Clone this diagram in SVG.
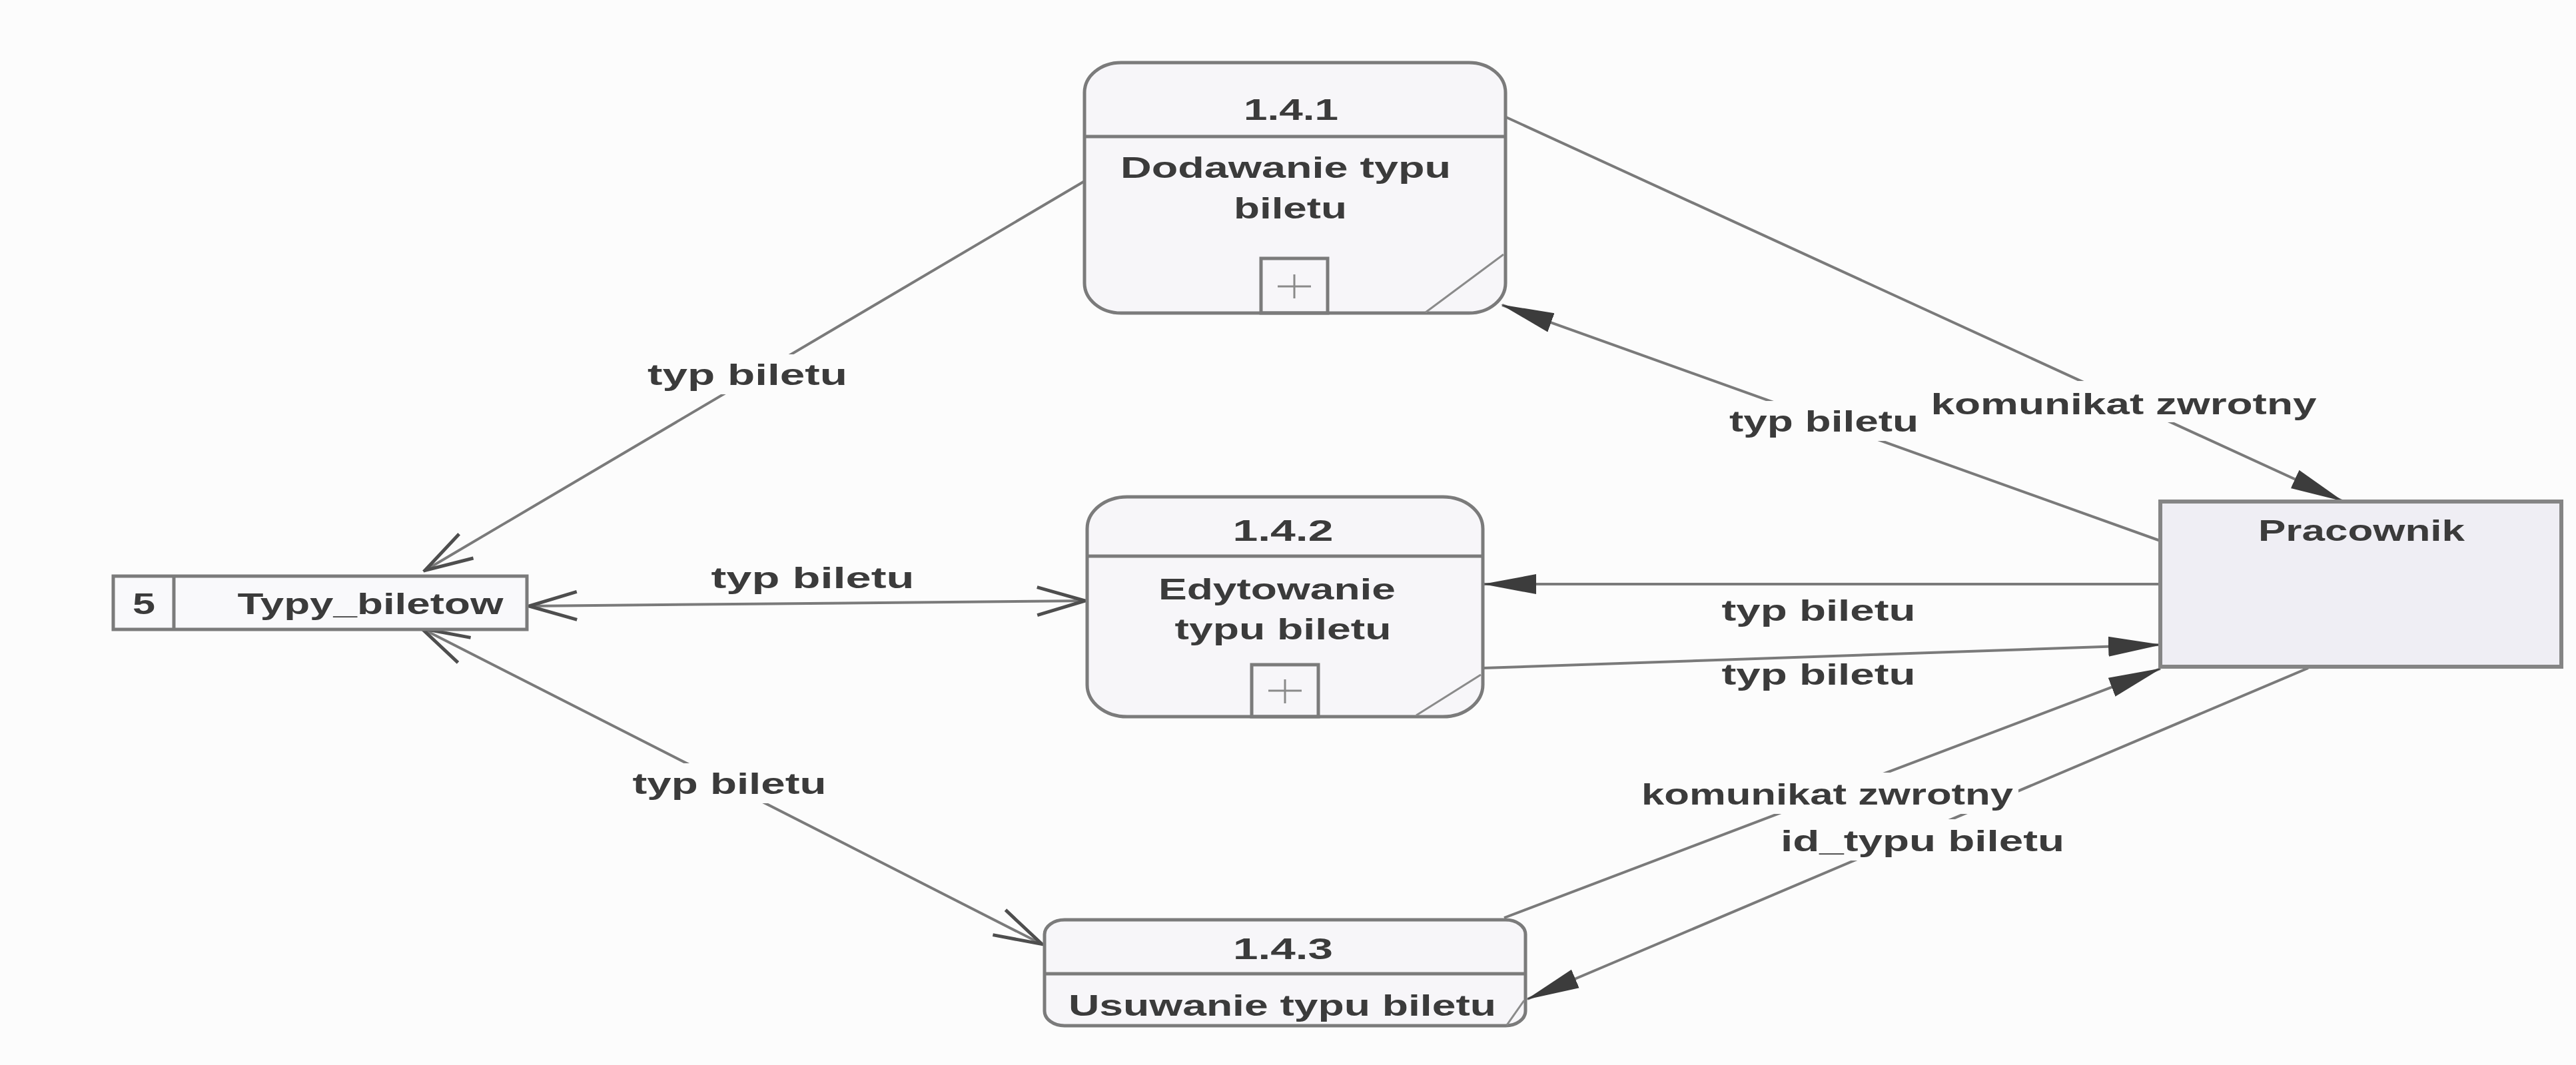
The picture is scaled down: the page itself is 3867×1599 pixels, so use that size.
<svg xmlns="http://www.w3.org/2000/svg" width="3867" height="1599" viewBox="0 0 3867 1599">
  <style>
    .proc { fill:#f7f6f9; stroke:#7b7b7b; stroke-width:5; }
    .ext { fill:#efeef4; stroke:#858585; stroke-width:6; }
    .store { fill:#f9f9fb; stroke:#7b7b7b; stroke-width:5; }
    .sep { stroke:#7b7b7b; stroke-width:5; fill:none; }
    .thin { stroke:#8a8a8a; stroke-width:3; fill:none; }
    .t { font-family:"Liberation Sans", Arial, sans-serif; font-weight:bold; font-size:44px; fill:#3b3b3b; text-anchor:middle; }
    .flow { stroke:#7a7a7a; stroke-width:4; fill:none; }
    .bg { fill:#fcfcfc; }
  </style>
  <defs>
    <!-- open V head for data-store flows -->
    <marker id="open" viewBox="0 0 80 50" refX="78" refY="25" markerWidth="80" markerHeight="50" markerUnits="userSpaceOnUse" orient="auto-start-reverse">
      <path d="M5,4 L77,25 L5,46" fill="none" stroke="#4e4e4e" stroke-width="5"/>
    </marker>
    <!-- solid head for flows to/from the external entity -->
    <marker id="solid" viewBox="0 0 80 36" refX="78" refY="18" markerWidth="80" markerHeight="36" markerUnits="userSpaceOnUse" orient="auto">
      <path d="M0,3 L80,18 L0,33 Z" fill="#3c3c3c"/>
    </marker>
  </defs>

  <rect x="0" y="0" width="3867" height="1599" fill="#fcfcfc"/>

  <!-- data flows -->
  <g id="connectors">
    <line class="flow" x1="1628" y1="272" x2="637" y2="857" marker-end="url(#open)"/>
    <line class="flow" x1="793" y1="910" x2="1630" y2="902" marker-start="url(#open)" marker-end="url(#open)"/>
    <line class="flow" x1="632" y1="943" x2="1565" y2="1418" marker-start="url(#open)" marker-end="url(#open)"/>
    <line class="flow" x1="2261" y1="176" x2="3516" y2="752" marker-end="url(#solid)"/>
    <line class="flow" x1="3243" y1="812" x2="2255" y2="458" marker-end="url(#solid)"/>
    <line class="flow" x1="3243" y1="877" x2="2228" y2="877" marker-end="url(#solid)"/>
    <line class="flow" x1="2227" y1="1003" x2="3243" y2="968" marker-end="url(#solid)"/>
    <line class="flow" x1="2258" y1="1378" x2="3243" y2="1004" marker-end="url(#solid)"/>
    <line class="flow" x1="3465" y1="1003" x2="2293" y2="1500" marker-end="url(#solid)"/>

    <!-- label backgrounds break the lines they sit on -->
    <rect class="bg" x="964" y="532" width="316" height="60"/>
    <rect class="bg" x="941" y="1146" width="308" height="60"/>
    <rect class="bg" x="2588" y="602" width="300" height="60"/>
    <rect class="bg" x="2890" y="572" width="596" height="62"/>
    <rect class="bg" x="2456" y="1160" width="574" height="62"/>
    <rect class="bg" x="2665" y="1230" width="442" height="62"/>

    <text class="t" x="1122" y="578" textLength="300" lengthAdjust="spacingAndGlyphs">typ biletu</text>
    <text class="t" x="1220" y="883" textLength="305" lengthAdjust="spacingAndGlyphs">typ biletu</text>
    <text class="t" x="1095" y="1192" textLength="291" lengthAdjust="spacingAndGlyphs">typ biletu</text>
    <text class="t" x="2738" y="648" textLength="284" lengthAdjust="spacingAndGlyphs">typ biletu</text>
    <text class="t" x="3188" y="622" textLength="579" lengthAdjust="spacingAndGlyphs">komunikat zwrotny</text>
    <text class="t" x="2730" y="932" textLength="291" lengthAdjust="spacingAndGlyphs">typ biletu</text>
    <text class="t" x="2730" y="1028" textLength="291" lengthAdjust="spacingAndGlyphs">typ biletu</text>
    <text class="t" x="2743" y="1208" textLength="558" lengthAdjust="spacingAndGlyphs">komunikat zwrotny</text>
    <text class="t" x="2886" y="1278" textLength="426" lengthAdjust="spacingAndGlyphs">id_typu biletu</text>
  </g>

  <!-- process 1.4.1 -->
  <g id="p141">
    <rect class="proc" x="1628" y="94" width="632" height="376" rx="55" ry="45"/>
    <line class="sep" x1="1628" y1="205" x2="2260" y2="205"/>
    <text class="t" x="1938" y="180" textLength="142" lengthAdjust="spacingAndGlyphs">1.4.1</text>
    <text class="t" x="1930" y="267" textLength="496" lengthAdjust="spacingAndGlyphs">Dodawanie typu</text>
    <text class="t" x="1937" y="328" textLength="170" lengthAdjust="spacingAndGlyphs">biletu</text>
    <rect class="sep" x="1893" y="388" width="100" height="82"/>
    <path class="thin" d="M1918,430 H1968 M1943,412 V448"/>
    <line class="thin" x1="2257" y1="382" x2="2140" y2="469"/>
  </g>

  <!-- process 1.4.2 -->
  <g id="p142">
    <rect class="proc" x="1632" y="746" width="594" height="330" rx="60" ry="48"/>
    <line class="sep" x1="1632" y1="835" x2="2226" y2="835"/>
    <text class="t" x="1926" y="812" textLength="151" lengthAdjust="spacingAndGlyphs">1.4.2</text>
    <text class="t" x="1917" y="900" textLength="356" lengthAdjust="spacingAndGlyphs">Edytowanie</text>
    <text class="t" x="1926" y="960" textLength="325" lengthAdjust="spacingAndGlyphs">typu biletu</text>
    <rect class="sep" x="1879" y="998" width="100" height="78"/>
    <path class="thin" d="M1904,1037 H1954 M1929,1020 V1056"/>
    <line class="thin" x1="2223" y1="1013" x2="2126" y2="1074"/>
  </g>

  <!-- process 1.4.3 -->
  <g id="p143">
    <rect class="proc" x="1568" y="1381" width="722" height="159" rx="30" ry="22"/>
    <line class="sep" x1="1568" y1="1462" x2="2290" y2="1462"/>
    <text class="t" x="1926" y="1440" textLength="150" lengthAdjust="spacingAndGlyphs">1.4.3</text>
    <text class="t" x="1925" y="1525" textLength="642" lengthAdjust="spacingAndGlyphs">Usuwanie typu biletu</text>
    <line class="thin" x1="2288" y1="1502" x2="2262" y2="1539"/>
  </g>

  <!-- external entity -->
  <g id="pracownik">
    <rect class="ext" x="3243" y="753" width="602" height="248"/>
    <text class="t" x="3545" y="812" textLength="310" lengthAdjust="spacingAndGlyphs">Pracownik</text>
  </g>

  <!-- data store -->
  <g id="store5">
    <rect class="store" x="170" y="865" width="621" height="80"/>
    <line class="sep" x1="261" y1="865" x2="261" y2="945"/>
    <text class="t" x="216" y="922" textLength="34" lengthAdjust="spacingAndGlyphs">5</text>
    <text class="t" x="556" y="922" textLength="399" lengthAdjust="spacingAndGlyphs">Typy_biletow</text>
  </g>
</svg>
